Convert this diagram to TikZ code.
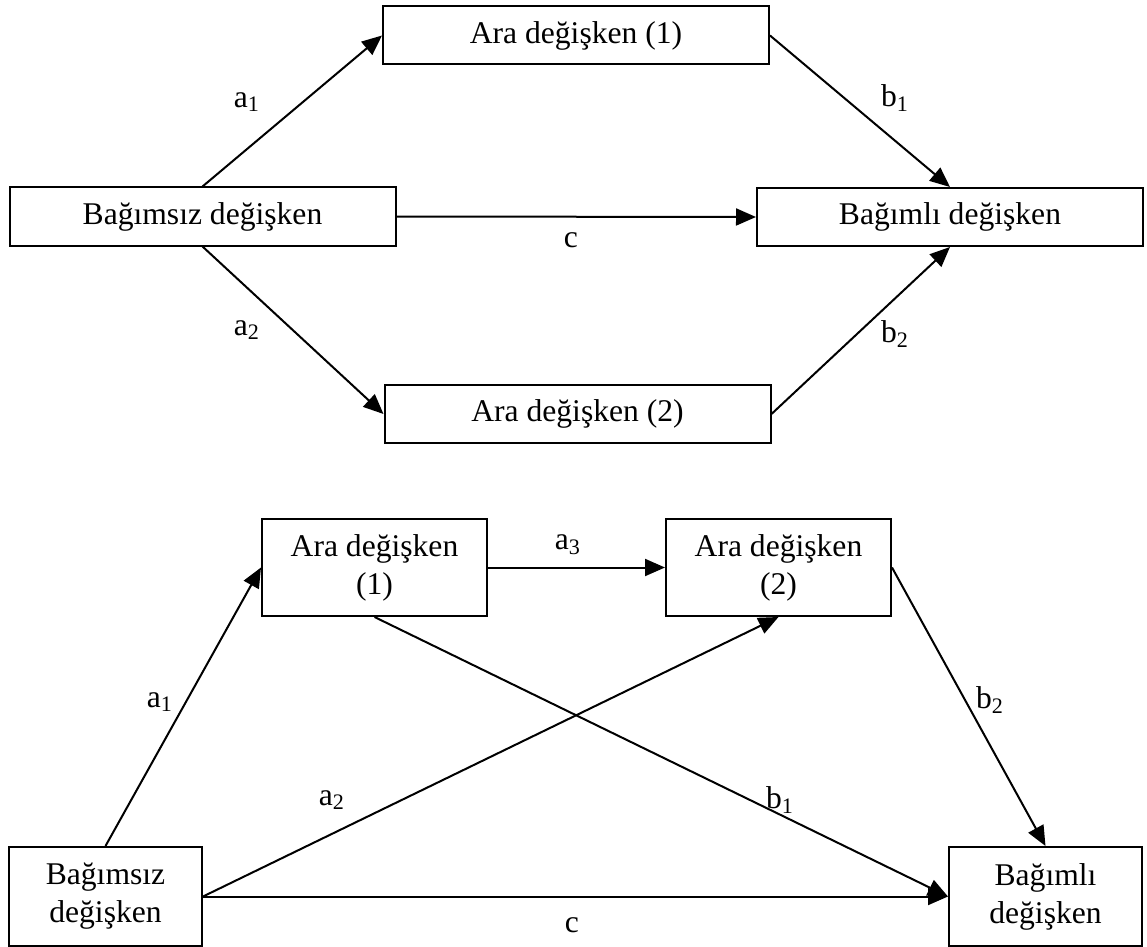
\documentclass[tikz,border=0pt]{standalone}
\usepackage{fontspec}
\setmainfont{Liberation Serif}
\usetikzlibrary{arrows.meta}
\begin{document}
\begin{tikzpicture}[x=0.5pt,y=-0.5pt,
  box/.style={draw,line width=1pt,inner sep=0pt,align=center,
    font=\fontsize{15.8}{19}\selectfont},
  widebox/.style={box,minimum width=193pt,minimum height=29pt},
  tallbox/.style={box,minimum width=96.5pt,minimum height=49.5pt},
  midbox/.style={box,minimum width=112.5pt,minimum height=48.5pt},
  lbl/.style={inner sep=0pt,font=\fontsize{15.8}{19}\selectfont},
  arr/.style={line width=1pt,-{Triangle[length=10pt,width=8.5pt]}}]
\useasboundingbox (0,0) rectangle (1147,947);

% upper model: two parallel mediators
\node[widebox] (iv1) at (202.5,216.5) {Bağımsız değişken};
\node[widebox] (m11) at (576,35.5) {Ara değişken (1)};
\node[widebox] (m12) at (577.5,414) {Ara değişken (2)};
\node[widebox] (dv1) at (950,217) {Bağımlı değişken};

\draw[arr] (iv1.north) -- (m11.west);
\draw[arr] (m11.east) -- (dv1.north);
\draw[arr] (iv1.east) -- (dv1.west);
\draw[arr] (iv1.south) -- (m12.west);
\draw[arr] (m12.east) -- (dv1.south);

\node[lbl] (ta1) at (247,102) {a\textsubscript{1}};
\node[lbl] (tb1) at (895,98) {b\textsubscript{1}};
\node[lbl] (tc) at (571,240) {c};
\node[lbl] (ta2) at (247,330) {a\textsubscript{2}};
\node[lbl] (tb2) at (895,334) {b\textsubscript{2}};

% lower model: serial mediators
\node[tallbox] (iv2) at (105.5,896.5) {Bağımsız\\değişken};
\node[midbox] (m21) at (374.5,567.5) {Ara değişken\\(1)};
\node[midbox] (m22) at (778.5,567.5) {Ara değişken\\(2)};
\node[tallbox] (dv2) at (1045.5,896.5) {Bağımlı\\değişken};

\draw[arr] (iv2.north) -- (m21.west);
\draw[arr] (m21.east) -- (m22.west);
\draw[arr] (m21.south) -- (dv2.west);
\draw[arr] (iv2.east) -- (m22.south);
\draw[arr] (m22.east) -- (dv2.north);
\draw[arr] (iv2.east) -- (dv2.west);

\node[lbl] (ba1) at (160,702) {a\textsubscript{1}};
\node[lbl] (ba3) at (568,545) {a\textsubscript{3}};
\node[lbl] (ba2) at (332,800) {a\textsubscript{2}};
\node[lbl] (bb1) at (780,800) {b\textsubscript{1}};
\node[lbl] (bb2) at (990,700) {b\textsubscript{2}};
\node[lbl] (bc) at (572,925) {c};
\end{tikzpicture}
\end{document}
